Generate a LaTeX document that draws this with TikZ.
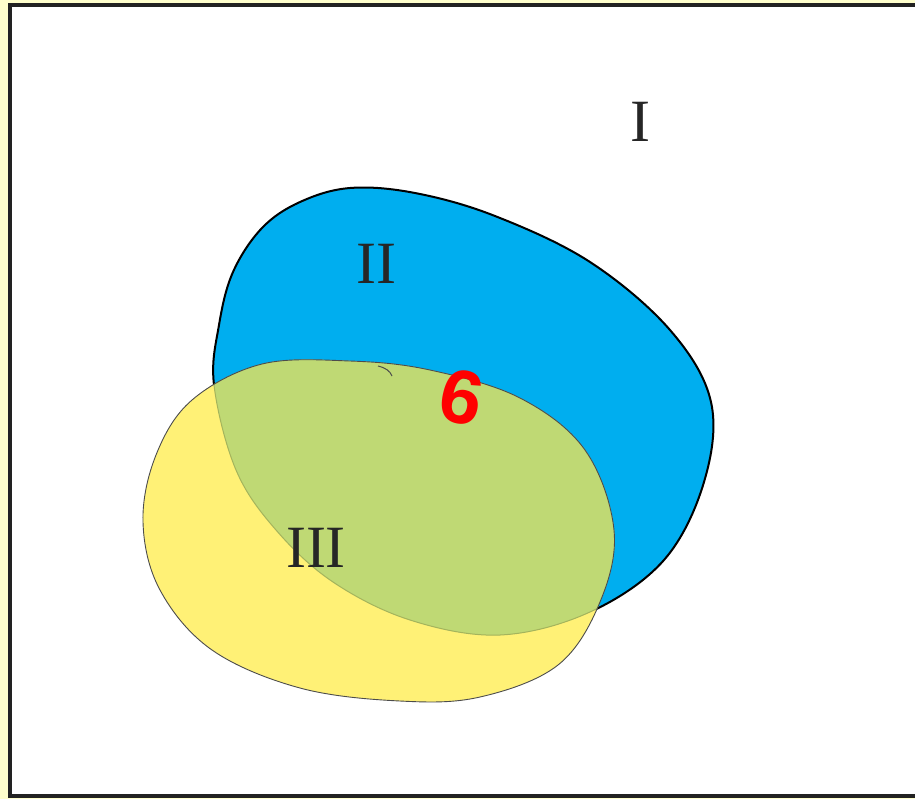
\documentclass[tikz,border=0pt]{standalone}
\usepackage{fontspec}
\setmainfont{Liberation Serif}
\newfontfamily\digitfont{Liberation Sans}
\definecolor{paleedge}{HTML}{FFFFCC}
\definecolor{frameink}{HTML}{222222}
\definecolor{setblue}{HTML}{00AEEF}
\definecolor{setyellow}{HTML}{FFF176}
\definecolor{setgreen}{HTML}{BFD974}
\definecolor{seamink}{HTML}{A4B45C}
\definecolor{labelink}{HTML}{262626}
\tikzset{
  romanlabel/.style={text=labelink, inner sep=0pt, font=\fontsize{30}{36}\selectfont},
}
\newcommand{\bluepath}{plot[smooth cycle, tension=0.6] coordinates {
  (214,385) (219,325) (233,272) (262,228) (300,202) (350,188) (415,193)
  (495,216) (590,262) (670,330) (711,402) (704,482) (664,560) (590,612)
  (500,635) (410,620) (333,582) (276,530) (236,470)}}
\newcommand{\yellowpath}{plot[smooth cycle, tension=0.6] coordinates {
  (262,364) (350,361) (430,370) (520,398) (585,450) (614,530) (600,602)
  (558,665) (480,697) (400,701) (300,688) (212,650) (160,590) (143,522)
  (156,455) (192,400)}}

\begin{document}
\begin{tikzpicture}[x=0.5pt, y=-0.5pt]
  \useasboundingbox (0,0) rectangle (915,799);
  \fill[paleedge] (0,0) rectangle (915,799);
  \begin{scope}
    \clip (0,0) rectangle (915,799);
    \draw[frameink, line width=2pt, fill=white] (10,5) rectangle (935,796);
  \end{scope}
  % sets
  \draw[fill=setblue, draw=black, line width=1pt] \bluepath;
  \fill[setyellow] \yellowpath;
  \begin{scope}
    \clip \yellowpath;
    \fill[setgreen] \bluepath;
    \draw[seamink, line width=0.5pt] \bluepath;
  \end{scope}
  \draw[gray!60!black, line width=0.45pt] \yellowpath;
  \draw[gray!60!black, line width=0.5pt] (378,366) .. controls (386,368) and (390,371) .. (392,376);
  % labels
  \node[romanlabel] (one) at (640,122) {I};
  \node[romanlabel] (two) at (376,264) {II};
  \node[romanlabel] (three) at (316,548) {III};
  \node[text=red, inner sep=0pt, rotate=-12, font=\digitfont\bfseries\fontsize{38}{40}\selectfont] (six) at (462,397) {6};
\end{tikzpicture}
\end{document}
